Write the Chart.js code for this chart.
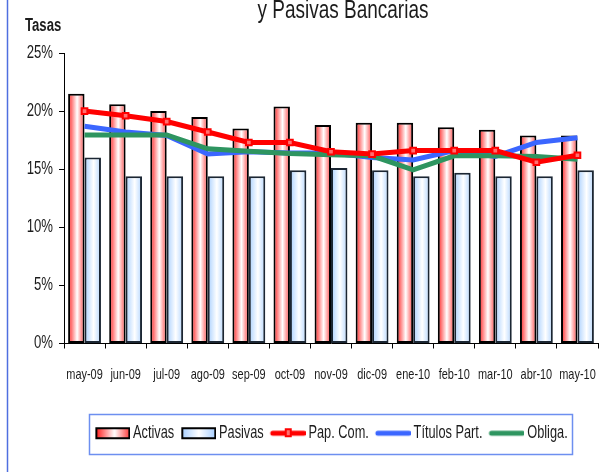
<!DOCTYPE html>
<html>
<head>
<meta charset="utf-8">
<script src="https://cdn.jsdelivr.net/npm/chart.js@4"></script>
<style>
  html, body { margin: 0; padding: 0; background: #fff; overflow: hidden; }
  #wrap { position: absolute; left: 0; top: 0; }
</style>
</head>
<body>
<div id="wrap"><canvas id="tasasCanvas" width="604" height="472"></canvas></div>
<script>
// meses
const meses = ['may-09', 'jun-09', 'jul-09', 'ago-09', 'sep-09', 'oct-09', 'nov-09',
               'dic-09', 'ene-10', 'feb-10', 'mar-10', 'abr-10', 'may-10'];

// tasas (%)
const activas  = [21.5, 20.6, 20.0, 19.5, 18.5, 20.4, 18.8, 19.0, 19.0, 18.6, 18.4, 17.9, 17.9];
const pasivas  = [16.0, 14.4, 14.4, 14.4, 14.4, 14.9, 15.1, 14.9, 14.4, 14.7, 14.4, 14.4, 14.9];
const papCom   = [20.0, 19.6, 19.1, 18.2, 17.3, 17.3, 16.5, 16.3, 16.6, 16.6, 16.6, 15.6, 16.2];
const titulos  = [18.7, 18.2, 17.9, 16.3, 16.5, 16.4, 16.4, 16.0, 15.8, 16.6, 16.1, 17.3, 17.7];
const obliga   = [17.95, 17.95, 17.95, 16.75, 16.55, 16.35, 16.25, 16.15, 14.95, 16.15, 16.15, 16.1, 15.85];

const yTicks = [0, 5, 10, 15, 20, 25];

const FONT = "'Liberation Sans', Arial, sans-serif";
const TXT = '#1c1c1c';
const SX = 0.73;   // the original text is squeezed sideways

const canvas = document.getElementById('tasasCanvas');
const c2d = canvas.getContext('2d');
// narrow text: draw every string squeezed and report the squeezed width
const origFill = c2d.fillText.bind(c2d);
const origMeasure = c2d.measureText.bind(c2d);
c2d.fillText = function (t, x, y, mw) {
  this.save();
  this.translate(x, y);
  this.scale(SX, 1);
  if (mw === undefined) origFill(t, 0, 0); else origFill(t, 0, 0, mw / SX);
  this.restore();
};
c2d.measureText = function (t) {
  const m = origMeasure(t);
  return {
    width: m.width * SX,
    actualBoundingBoxAscent: m.actualBoundingBoxAscent,
    actualBoundingBoxDescent: m.actualBoundingBoxDescent,
    actualBoundingBoxLeft: m.actualBoundingBoxLeft * SX,
    actualBoundingBoxRight: m.actualBoundingBoxRight * SX
  };
};

// small canvases used as legend swatches (transparent strip on the left so
// the swatch sits close to its text)
function swatch(kind) {
  const c = document.createElement('canvas');
  c.width = 42; c.height = 16;
  const g = c.getContext('2d');
  if (kind == 'activas' || kind == 'pasivas') {
    const gr = g.createLinearGradient(8, 0, 41, 0);
    if (kind == 'activas') {
      gr.addColorStop(0, '#ff2020'); gr.addColorStop(0.55, '#ffffff'); gr.addColorStop(1, '#ff4040');
    } else {
      gr.addColorStop(0, '#a9d0ff'); gr.addColorStop(0.5, '#ffffff'); gr.addColorStop(1, '#a9d0ff');
    }
    g.fillStyle = gr;
    g.fillRect(8, 3, 33, 10);
    g.lineWidth = 2;
    g.strokeStyle = '#000';
    g.strokeRect(8, 3, 33, 10);
  } else {
    const col = { pap: '#ff0000', tit: '#3b66ff', obl: '#2e9560' }[kind];
    g.strokeStyle = col;
    g.lineWidth = 5;
    g.lineCap = 'round';
    g.beginPath(); g.moveTo(9, 8); g.lineTo(40, 8); g.stroke();
    if (kind == 'pap') {
      g.lineWidth = 2;
      g.fillStyle = '#ff7070';
      g.fillRect(22, 4, 5, 7);
      g.strokeRect(22, 4, 5, 7);
    }
  }
  return c;
}
const legendSwatches = [swatch('activas'), swatch('pasivas'), swatch('pap'), swatch('tit'), swatch('obl')];

// bars get a horizontal red/blue -> white -> red/blue fill
const barShading = {
  id: 'barShading',
  beforeDatasetsDraw(chart) {
    const ctx = chart.ctx;
    [[0, '#ff2020', '#ff4848'], [1, '#a9d0ff', '#b4d6ff']].forEach(([di, c1, c2]) => {
      chart.getDatasetMeta(di).data.forEach(el => {
        const { x, width } = el.getProps(['x', 'width'], true);
        const l = x - width / 2;
        const gr = ctx.createLinearGradient(l, 0, l + width, 0);
        gr.addColorStop(0, c1);
        gr.addColorStop(0.55, '#ffffff');
        gr.addColorStop(1, c2);
        el.options = Object.assign({}, el.options, { backgroundColor: gr });
      });
    });
  }
};

// title line, "Tasas", left border and box round the legend
const decor = {
  id: 'decor',
  afterDraw(chart) {
    const ctx = chart.ctx;
    ctx.save();
    ctx.fillStyle = TXT;
    ctx.textBaseline = 'alphabetic';
    ctx.textAlign = 'center';
    ctx.font = '26px ' + FONT;
    ctx.fillText('y Pasivas Bancarias', 343, 18);
    ctx.textAlign = 'left';
    ctx.font = 'bold 18px ' + FONT;
    ctx.fillText('Tasas', 25, 31);

    ctx.strokeStyle = '#4f6fe0';
    ctx.lineWidth = 1.5;
    ctx.beginPath(); ctx.moveTo(7.5, 0); ctx.lineTo(7.5, 472); ctx.stroke();

    const lg = chart.legend;
    if (lg && lg.legendHitBoxes.length) {
      const hb = lg.legendHitBoxes;
      const l = Math.min(...hb.map(h => h.left)) - 5;
      const r = Math.max(...hb.map(h => h.left + h.width)) + 5;
      const t = hb[0].top - 11;
      const b = hb[0].top + hb[0].height + 11;
      ctx.strokeStyle = '#6d8ff0';
      ctx.lineWidth = 1.5;
      ctx.strokeRect(Math.round(l) + 0.5, Math.round(t) + 0.5, Math.round(r - l), Math.round(b - t));
    }
    ctx.restore();
  }
};

const data = {
  labels: meses,
  datasets: [
    { type: 'bar', label: 'Activas', data: activas, backgroundColor: '#ffb0b0',
      borderColor: '#000', borderWidth: 2, borderSkipped: false, order: 5 },
    { type: 'bar', label: 'Pasivas', data: pasivas, backgroundColor: '#d8ebff',
      borderColor: '#1b2633', borderWidth: 2, borderSkipped: false, order: 5 },
    { type: 'line', label: 'Pap. Com.', data: papCom, borderColor: '#ff0000', borderWidth: 5,
      pointStyle: 'rect', pointRadius: 4, pointBorderWidth: 2, pointBorderColor: '#ff0000',
      pointBackgroundColor: '#ff7070', tension: 0, order: 1 },
    { type: 'line', label: 'Títulos Part.', data: titulos, borderColor: '#3b66ff', borderWidth: 5,
      pointRadius: 0, tension: 0, order: 3 },
    { type: 'line', label: 'Obliga.', data: obliga, borderColor: '#2e9560', borderWidth: 5,
      pointRadius: 0, tension: 0, order: 2 }
  ]
};

const config = {
  type: 'bar',
  data: data,
  options: {
    responsive: false,
    animation: false,
    layout: { padding: { top: 53, left: 0, right: 0, bottom: 20 } },
    datasets: { bar: { categoryPercentage: 0.8, barPercentage: 1.0 } },
    plugins: {
      tooltip: { enabled: false },
      legend: {
        position: 'bottom',
        fullSize: false,
        labels: {
          usePointStyle: true,
          pointStyleWidth: 30,
          boxHeight: 14,
          padding: 6,
          color: TXT,
          font: { family: FONT, size: 17.5 },
          generateLabels: chart => chart.data.datasets.map((ds, i) => ({
            text: ds.label,
            pointStyle: legendSwatches[i],
            fillStyle: 'transparent',
            strokeStyle: 'transparent',
            lineWidth: 0,
            hidden: false,
            datasetIndex: i,
            fontColor: TXT
          }))
        }
      }
    },
    scales: {
      x: {
        grid: { display: true, offset: true, drawOnChartArea: false, drawTicks: true,
                tickLength: 5, color: '#000' },
        border: { display: true, color: '#000', width: 1 },
        ticks: { color: TXT, font: { family: FONT, size: 15 }, padding: 17, maxRotation: 0,
                 autoSkip: false },
        afterFit: s => { s.height = 75; s.paddingLeft = 0; s.paddingRight = 0; }
      },
      y: {
        min: 0,
        max: 25,
        afterBuildTicks: s => { s.ticks = yTicks.map(v => ({ value: v })); },
        grid: { display: true, drawOnChartArea: false, drawTicks: true, tickLength: 5, color: '#000' },
        border: { display: true, color: '#000', width: 1 },
        ticks: { color: TXT, font: { family: FONT, size: 18 }, padding: 6,
                 callback: v => v + '%' },
        afterFit: s => { s.width = 64; }
      }
    }
  },
  plugins: [barShading, decor]
};

const chart = new Chart(canvas, config);
</script>
</body>
</html>
